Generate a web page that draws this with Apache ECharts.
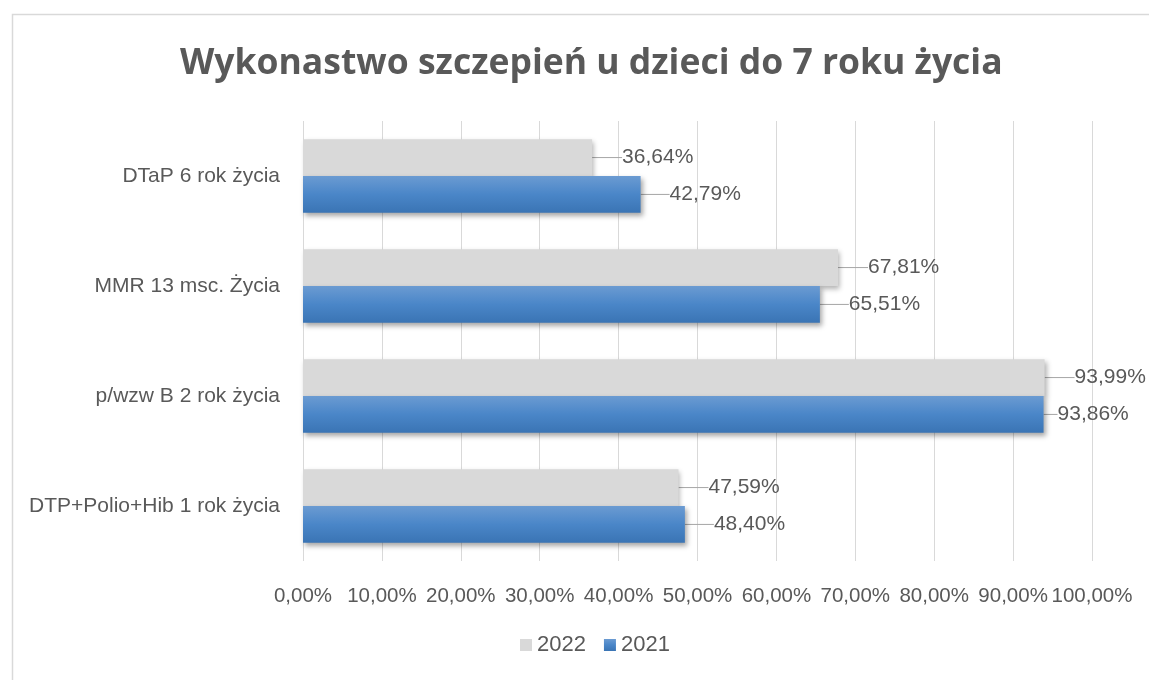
<!DOCTYPE html>
<html>
<head>
<meta charset="utf-8">
<script src="https://cdn.jsdelivr.net/npm/echarts@6/dist/echarts.min.js"></script>
<style>html,body{margin:0;padding:0;background:#fff}#c{width:1149px;height:680px}</style>
</head>
<body>
<div id="c"></div>
<script>
var categories = ['DTaP 6 rok życia', 'MMR 13 msc. Życia', 'p/wzw B 2 rok życia', 'DTP+Polio+Hib 1 rok życia'];
var values2022 = [36.64, 67.81, 93.99, 47.59];
var values2021 = [42.79, 65.51, 93.86, 48.40];
var xTicks = [0, 10, 20, 30, 40, 50, 60, 70, 80, 90, 100];

var FONT = 'Liberation Sans, sans-serif';
function pct(v) { return v.toFixed(2).replace('.', ',') + '%'; }

var chart = echarts.init(document.getElementById('c'));
chart.setOption({
  backgroundColor: '#fff',
  animation: false,
  graphic: [{
    type: 'rect', left: 10, top: 12, silent: true,
    shape: { width: 1160, height: 700 },
    style: { fill: 'none', stroke: '#d9d9d9', lineWidth: 1.5 }
  }],
  title: {
    text: 'Wykonastwo szczepień u dzieci do 7 roku życia',
    left: 175, top: 41,
    textStyle: { fontFamily: 'Open Sans, sans-serif', fontWeight: 'bold', fontSize: 35.5, color: '#595959' }
  },
  legend: {
    bottom: 19, left: 515,
    itemWidth: 12, itemHeight: 12, itemGap: 18,
    icon: 'rect',
    textStyle: { fontFamily: FONT, fontSize: 22, color: '#595959' },
    data: ['2022', '2021']
  },
  grid: { left: 303, right: 57, top: 121, bottom: 119 },
  xAxis: {
    type: 'value', min: 0, max: 100, interval: 10,
    axisLine: { show: false }, axisTick: { show: false },
    splitLine: { show: true, lineStyle: { color: '#d9d9d9', width: 1 } },
    axisLabel: {
      margin: 25, fontFamily: FONT, fontSize: 20.5, color: '#595959',
      formatter: function (v) { return xTicks.indexOf(v) >= 0 ? pct(v) : ''; }
    }
  },
  yAxis: {
    type: 'category', inverse: true, data: categories,
    axisLine: { show: false }, axisTick: { show: false },
    axisLabel: { margin: 23, fontFamily: FONT, fontSize: 21, color: '#595959' }
  },
  series: [{
    name: '2022', type: 'bar', data: values2022,
    barGap: '0%', barCategoryGap: '33%',
    itemStyle: { color: '#d9d9d9', shadowBlur: 5, shadowOffsetX: 2, shadowOffsetY: 3, shadowColor: 'rgba(0,0,0,0.3)' },
    label: { show: true, position: 'right', distance: 4, fontFamily: FONT, fontSize: 21, color: '#595959',
      formatter: function (p) { return pct(p.value); } },
    labelLine: { show: true, lineStyle: { color: '#a6a6a6', width: 1 } },
    labelLayout: function () { return { dx: 26 }; }
  }, {
    name: '2021', type: 'bar', data: values2021,
    itemStyle: {
      color: new echarts.graphic.LinearGradient(0, 0, 0, 1, [
        { offset: 0, color: '#6b9bd2' }, { offset: 0.5, color: '#4a86c8' }, { offset: 1, color: '#3a74b4' }
      ]),
      shadowBlur: 5, shadowOffsetX: 2, shadowOffsetY: 3, shadowColor: 'rgba(0,0,0,0.35)'
    },
    label: { show: true, position: 'right', distance: 4, fontFamily: FONT, fontSize: 21, color: '#595959',
      formatter: function (p) { return pct(p.value); } },
    labelLine: { show: true, lineStyle: { color: '#a6a6a6', width: 1 } },
    labelLayout: function (p) { return p.dataIndex === 2 ? { dx: 10 } : { dx: 25 }; }
  }]
});
</script>
</body>
</html>
